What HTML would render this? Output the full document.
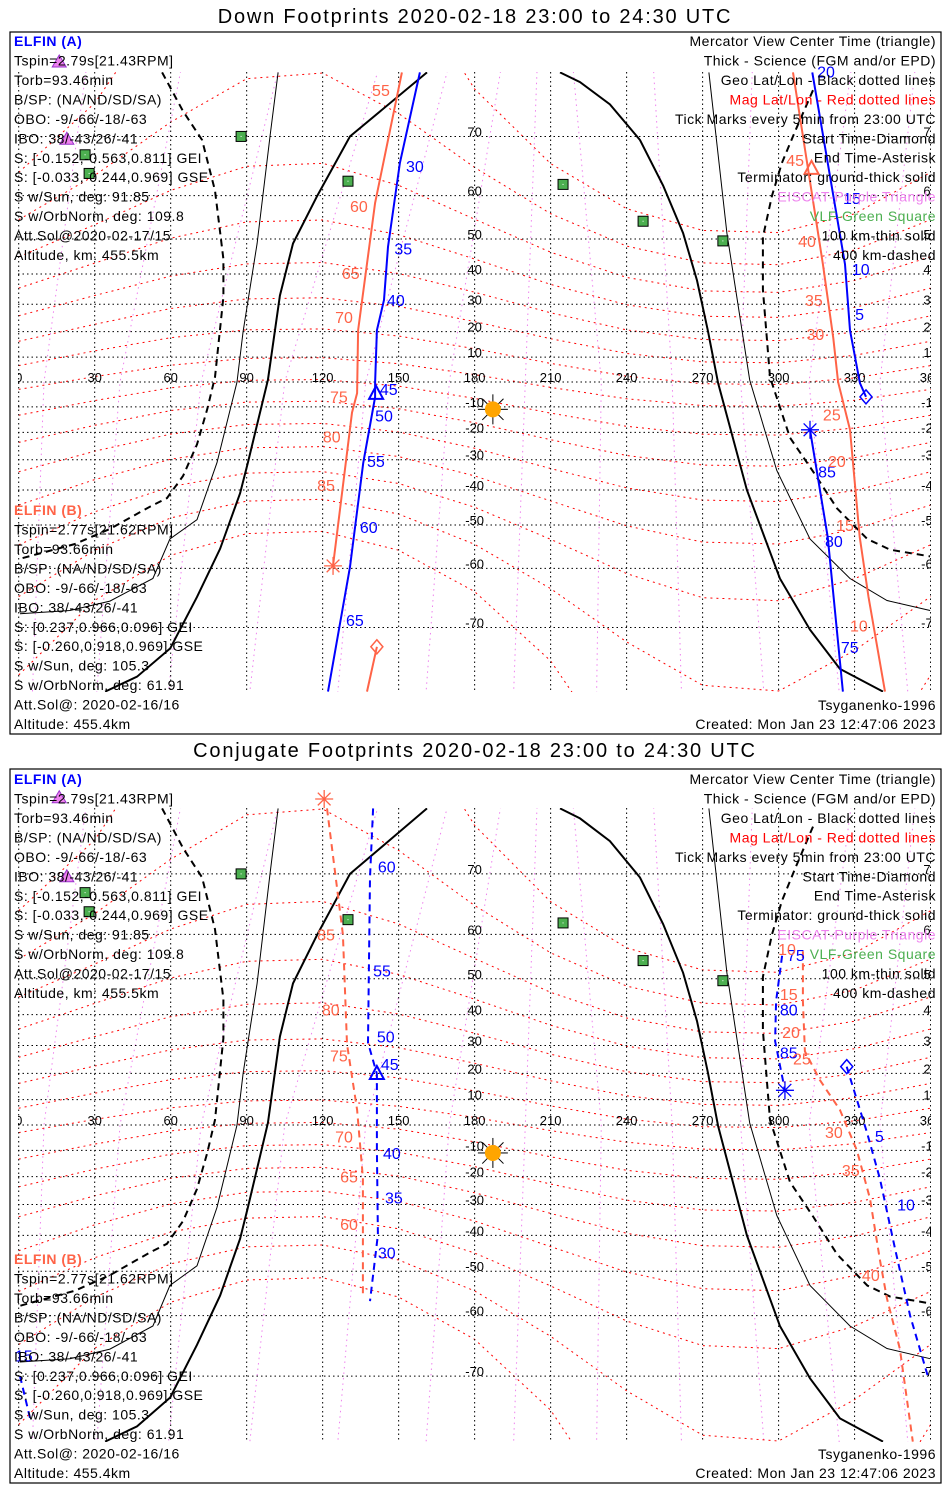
<!DOCTYPE html>
<html><head><meta charset="utf-8"><style>
html,body{margin:0;padding:0;background:#fff;width:950px;height:1500px;overflow:hidden}
svg{display:block}
text{font-family:"Liberation Sans",sans-serif}
</style></head><body>
<svg id="chart" width="950" height="1500" viewBox="0 0 950 1500" xmlns="http://www.w3.org/2000/svg">
<rect x="0" y="0" width="950" height="1500" fill="#fff"/>
<g id="layer"></g>
</svg>
<script>
// ---- axis / grid data ----
const lonTicks=[0,30,60,90,120,150,180,210,240,270,300,330,360];
const latTicks=[-70,-60,-50,-40,-30,-20,-10,10,20,30,40,50,60,70];
const magLats=[-70,-60,-50,-40,-30,-20,-10,0,10,20,30,40,50,60,70];
const magLonsGrid=[0,30,60,90,120,150,180,210,240,270,300,330,360];
const magOffsets=[-3.0,2.2,6.8,9.5,9.8,7.4,3.0,-2.2,-6.8,-9.5,-9.8,-7.4,-3.0];
const violetEq=[10,40,72,105,137,170,200,230,258,285,312,340];
const violetTop=[28,66,105,145,172,192,205,218,250,290,330,355];
const violetBot=[5,30,58,90,125,160,195,228,262,295,325,352];
// ---- terminator / altitude curves (geo lon/lat) ----
const termThickL_lon=[161.2,130.8,117.8,108.3,103.1,98.4,90.5,87.4,79.5,70.4,59.8,46.7,34.1];
const termThickL_lat=[77.2,70,59.9,48.8,33,0.8,-31,-41,-55.8,-65.3,-72.7,-75.8,-77.2];
const termThickR_lon=[213.7,221.6,233.4,245.3,254.4,262.3,267.8,272.1,276.1,287.5,300.5,312.4,324.2,341.2];
const termThickR_lat=[77.2,76.3,74,69.5,62,51.5,38,20.3,-0.4,-40,-62,-70.3,-75,-77.2];
const thinL_lon=[102.4,99.2,94.1,88.6,86.2,78.3,70.4,59.7,53,36,20.2,0.5];
const thinL_lat=[77.2,70,48.8,20,0,-31,-48.6,-53.5,-62,-66,-67.5,-68];
const thinR_lon=[272.5,279.6,288.6,299.3,312.4,328.2,342.8,359.8];
const thinR_lat=[77.2,51.5,0.8,-33.7,-53.5,-62,-65.9,-67.5];
const dashL_lon=[56.6,64.9,72.4,77.5,80.8,80.8,77.5,74.4,70.4,64.9,58.5,51.8,36,22.2,0.5];
const dashL_lat=[77.2,73.2,69.5,61,44.5,32.5,2,-11,-24.5,-35.5,-42.5,-45,-51,-54.7,-58];
const dashR_lon=[313.6,306.5,301.3,297.4,293.8,293.8,296.6,304.5,313.6,323.1,335,344,359.8];
const dashR_lat=[75.5,70.7,66,60,50.5,35,2,-22,-34,-45.5,-53.5,-56,-57.5];
// ---- site markers ----
const vlfLon=[26.2,27.8,87.8,130,214.9,246.5,278];
const vlfLat=[67.3,64.2,70,62.8,62.2,54.4,49.5];
const eiscatLon=[16,19];
const eiscatLat=[78.1,69.6];
const sunLon=[187.2];
const sunLat=[-11];
// ---- panel 1 (down) tracks ----
const p1A_lon=[158.4,150.5,145.8,144.2,141.4,140.7,140.7,136,130.8,122.1];
const p1A_lat=[77.2,66,47.9,31.5,20.5,-0.4,-6.1,-31.2,-59.7,-77.2];
const p1B_lon=[151.3,140.7,134,133.6,131.6,124.1];
const p1B_lat=[77.2,58.5,20.5,-4.5,-12.3,-59.5];
const p1B2_lon=[141.4,137.5];
const p1B2_lat=[-72.5,-77.2];
const p1AR_lon=[313.3,326.2,328.2,332.1,334.5];
const p1AR_lat=[77.2,43,20.5,-0.4,-6];
const p1AR2_lon=[312.4,319.4,325.4];
const p1AR2_lat=[-19,-53,-77.2];
const p1BR_lon=[305.7,317.5,321.6,323.5,328.2,332,335.5,342];
const p1BR_lat=[77.2,43,17.5,0,-19,-53,-65.3,-77.2];
const p1A_labels=['30','35','40','45','50','55','60','65','20','15','10','5','85','80','75'];
const p1A_labLon=[152.9,148.3,145.4,142.6,140.7,137.5,134.7,129.2,315.2,325.4,328.9,330.2,315.6,318.3,324.6];
const p1A_labLat=[65.5,47.5,31.5,-2.9,-13.5,-30.5,-50.5,-68.9,77.3,59.5,41.5,26.5,-34,-54,-72.5];
const p1B_labels=['55','60','65','70','75','80','85','45','40','35','30','25','20','15','10'];
const p1B_labLon=[139.5,130.8,127.6,124.9,122.9,120.1,117.8,303,307.7,310.4,311,317.5,319.5,322.7,328.2];
const p1B_labLat=[75.5,57.8,40.3,25.5,-5.8,-21.6,-38.5,66.5,49.5,31.5,19,-13,-30.5,-50,-69.7];
// ---- panel 2 (conjugate) tracks ----
const p2A_lon=[139.9,138.7,137.9,141.4,141.4,141.8,138.7];
const p2A_lat=[77.2,69.5,31,19.8,-9.8,-39.8,-57];
const p2B_lon=[121.7,128,129.6,133.6,135.9,135.9];
const p2B_lat=[77.2,60,30.5,6,-20.5,-56.3];
const p2AR_lon=[301.4,299,298.6,302.5];
const p2AR_lat=[55.5,44,31.5,13.6];
const p2AR2_lon=[326.9,334.9,340,346,351.9,358.9];
const p2AR2_lat=[22.5,-3,-20.8,-44,-60,-70];
const p2AR3_lon=[0.5,4.5];
const p2AR3_lat=[-70,-75];
const p2BR_lon=[309.6,309.6,310.4,316.3,324.2,330.9,336.1,340,342.8,347.9,353];
const p2BR_lat=[56.5,44,28,17.5,6,-10,-28,-47,-56.5,-66,-77.2];
const p2A_labels=['60','55','50','45','40','35','30','75','80','85','5','10','15'];
const p2A_labLon=[141.8,139.9,141.4,143,143.8,144.6,141.8,303.3,300.5,300.5,338,346.8,-1.5];
const p2A_labLat=[71,52,33,23.5,-11,-27.5,-45,55.7,41.5,27.5,-4.3,-30,-67];
const p2B_labels=['85','80','75','70','65','60','10','15','20','25','30','35','40'];
const p2B_labLon=[117.8,119.7,122.9,124.9,126.9,126.9,299.8,300.5,301.4,305.7,318.3,325,332.9];
const p2B_labLat=[60,41.5,26.5,-4.5,-20,-36.5,57,46,34.5,25.5,-2.8,-17.5,-51];

const BLUE='#0000ff', RED='#ff6347';
const panels=[{yc:382,k:141.5,top:72,bot:692,dy:0,title:'Down Footprints 2020-02-18 23:00 to 24:30 UTC',box:[10,32,931,702],tx:0,bx:0,ty:23},
              {yc:1125,k:144.7,top:808,bot:1442,dy:738,title:'Conjugate Footprints 2020-02-18 23:00 to 24:30 UTC',box:[10,769,931,714],tx:738,bx:749,ty:757}];
const NS='http://www.w3.org/2000/svg';
const layer=document.getElementById('layer');
function X(lon){return 18.7+lon*2.533;}
function Y(lat,p){const r=lat*Math.PI/180;return p.yc-p.k*Math.log(Math.tan(Math.PI/4+r/2));}
function mk(tag,attrs,parent){const e=document.createElementNS(NS,tag);for(const k in attrs)e.setAttribute(k,attrs[k]);(parent||layer).appendChild(e);return e;}
function pts(lons,lats,p){return lons.map((l,i)=>X(l).toFixed(1)+','+Y(lats[i],p).toFixed(1)).join(' ');}
function txt(s,x,y,opts,parent){const t=mk('text',Object.assign({x:x,y:y,'font-size':13,fill:'#000'},opts||{}),parent);t.textContent=s;return t;}
const INFO={'font-size':14,'letter-spacing':0.5};

panels.forEach((p,pi)=>{
  const defs=mk('defs',{});
  const cp=mk('clipPath',{id:'clip'+pi},defs);
  mk('rect',{x:18,y:p.top,width:913,height:p.bot-p.top},cp);
  const tt=txt(p.title,475,p.ty,{'font-size':20,'letter-spacing':1.8,'text-anchor':'middle'});
  
  
  const box=mk('rect',{x:p.box[0],y:p.box[1],width:p.box[2],height:p.box[3],fill:'none',stroke:'#000','stroke-width':1.2});
  
  
  const g=mk('g',{'clip-path':'url(#clip'+pi+')'});
  
  
  violetEq.forEach((e,i)=>{
    const l=mk('polyline',{points:pts([violetTop[i],e,violetBot[i]],[79.5,0,-79.5],p),fill:'none',stroke:'#ee82ee','stroke-width':1,'stroke-dasharray':'1.5,4'},g);
    
    
  });
  magLats.forEach(m=>{
    const la=magOffsets.map(o=>Math.max(-85,Math.min(85,m+o*(1+Math.abs(m)/80))));
    const l=mk('polyline',{points:pts(magLonsGrid,la,p),fill:'none',stroke:'#ff0000','stroke-width':1,'stroke-dasharray':'2,4'},g);
    
    
  });
  lonTicks.forEach(lo=>{
    const l=mk('line',{x1:X(lo),x2:X(lo),y1:p.top,y2:p.bot,stroke:'#000','stroke-width':1,'stroke-dasharray':'1.5,3'},g);
    
    
  });
  latTicks.concat([0]).forEach(la=>{
    const l=mk('line',{x1:18,x2:931,y1:Y(la,p),y2:Y(la,p),stroke:'#000','stroke-width':1,'stroke-dasharray':'1.5,3'},g);
    
    
  });
  lonTicks.forEach(lo=>{
    const t=txt(String(lo),X(lo),Y(0,p),{'text-anchor':'middle'},g);
    
    
  });
  latTicks.forEach(la=>{
    [180,360].forEach(lo=>{
      const t=txt(String(la),X(lo),Y(la,p),{'text-anchor':'middle'},g);
      
      
    });
  });
  const curves=[[termThickL_lon,termThickL_lat,2,null,'terminator-ground-west'],[termThickR_lon,termThickR_lat,2,null,'terminator-ground-east'],
    [thinL_lon,thinL_lat,1,null,'terminator-100km-west'],[thinR_lon,thinR_lat,1,null,'terminator-100km-east'],
    [dashL_lon,dashL_lat,2,'7,5','terminator-400km-west'],[dashR_lon,dashR_lat,2,'7,5','terminator-400km-east']];
  curves.forEach(c=>{
    const a={points:pts(c[0],c[1],p),fill:'none',stroke:'#000','stroke-width':c[2]};
    if(c[3])a['stroke-dasharray']=c[3];
    const l=mk('polyline',a,g);
    
    
  });
  const tracks=pi===0?
    [[p1A_lon,p1A_lat,BLUE,'elfin-a-track'],[p1B_lon,p1B_lat,RED,'elfin-b-track'],[p1B2_lon,p1B2_lat,RED,'elfin-b-track-start'],
     [p1AR_lon,p1AR_lat,BLUE,'elfin-a-track-east'],[p1AR2_lon,p1AR2_lat,BLUE,'elfin-a-track-south'],[p1BR_lon,p1BR_lat,RED,'elfin-b-track-east']]:
    [[p2A_lon,p2A_lat,BLUE,'elfin-a-conj-track'],[p2B_lon,p2B_lat,RED,'elfin-b-conj-track'],[p2AR_lon,p2AR_lat,BLUE,'elfin-a-conj-track-east'],
     [p2AR2_lon,p2AR2_lat,BLUE,'elfin-a-conj-track-south'],[p2AR3_lon,p2AR3_lat,BLUE,'elfin-a-conj-track-wrap'],[p2BR_lon,p2BR_lat,RED,'elfin-b-conj-track-east']];
  tracks.forEach(t=>{
    const a={points:pts(t[0],t[1],p),fill:'none',stroke:t[2],'stroke-width':2};
    if(pi===1)a['stroke-dasharray']='7,5';
    const l=mk('polyline',a,g);
    
    
  });
  vlfLon.forEach((lo,i)=>{
    const x=X(lo),y=Y(vlfLat[i],p);
    const s=mk('rect',{x:x-5,y:y-5,width:10,height:10,fill:'#4caf50',stroke:'#000','stroke-width':1});
    
    
    mk('rect',{x:x-0.5,y:y-0.5,width:1,height:1,fill:'#fff'});
  });
  eiscatLon.forEach((lo,i)=>{
    const x=X(lo),y=Y(eiscatLat[i],p);
    const tr=mk('polygon',{points:`${x},${y-7} ${x-7},${y+5} ${x+7},${y+5}`,fill:'#ee82ee',stroke:'#9932cc','stroke-width':1});
    
    
  });
  {const x=X(sunLon[0]),y=Y(sunLat[0],p);
   const sg=mk('g',{});
   
   
   for(let a=0;a<8;a++){const r=a*Math.PI/4;mk('line',{x1:x,y1:y,x2:x+15*Math.cos(r),y2:y+15*Math.sin(r),stroke:'#000','stroke-width':1},sg);}
   mk('circle',{cx:x,cy:y,r:8,fill:'#ffa500'},sg);}
  const labSets=pi===0?[[p1A_labels,p1A_labLon,p1A_labLat,BLUE],[p1B_labels,p1B_labLon,p1B_labLat,RED]]:
                       [[p2A_labels,p2A_labLon,p2A_labLat,BLUE],[p2B_labels,p2B_labLon,p2B_labLat,RED]];
  labSets.forEach(s=>{
    s[0].forEach((lab,i)=>{
      const t=txt(lab,X(s[1][i]),Y(s[2][i],p)+6,{'font-size':16,fill:s[3]});
      
      
    });
  });
});

function triangle(lon,lat,p,col,name){const x=X(lon),y=Y(lat,p);
  const e=mk('polygon',{points:`${x},${y-8} ${x-7},${y+5} ${x+7},${y+5}`,fill:'none',stroke:col,'stroke-width':2});
  
  }
function diamond(lon,lat,p,col,name){const x=X(lon),y=Y(lat,p);
  const e=mk('polygon',{points:`${x},${y-7} ${x+6},${y} ${x},${y+7} ${x-6},${y}`,fill:'none',stroke:col,'stroke-width':1.5});
  
  }
function asterisk(lon,lat,p,col,name){const x=X(lon),y=Y(lat,p);const g=mk('g',{stroke:col,'stroke-width':1.3});
  
  
  for(let a=0;a<4;a++){const r=a*Math.PI/4;mk('line',{x1:x-9*Math.cos(r),y1:y-9*Math.sin(r),x2:x+9*Math.cos(r),y2:y+9*Math.sin(r)},g);}}
triangle(141.1,-4.8,panels[0],BLUE,'elfin-a-center-time');
triangle(313,65,panels[0],RED,'elfin-b-center-time');
diamond(334.5,-6,panels[0],BLUE,'elfin-a-start');
diamond(141.4,-72.5,panels[0],RED,'elfin-b-start');
asterisk(124.1,-59.5,panels[0],RED,'elfin-b-end');
asterisk(312.4,-19,panels[0],BLUE,'elfin-a-end');
triangle(141.4,19.8,panels[1],BLUE,'elfin-a-conj-center-time');
asterisk(120.6,78,panels[1],RED,'elfin-b-conj-end');
asterisk(302.5,13.6,panels[1],BLUE,'elfin-a-conj-end');
diamond(326.9,22.5,panels[1],BLUE,'elfin-a-conj-start');

const infoA=['Tspin=2.79s[21.43RPM]','Torb=93.46min','B/SP: (NA/ND/SD/SA)','OBO: -9/-66/-18/-63','IBO: 38/-43/26/-41','S: [-0.152,-0.563,0.811] GEI','S: [-0.033,-0.244,0.969] GSE','S w/Sun, deg: 91.85','S w/OrbNorm, deg: 109.8','Att.Sol@2020-02-17/15','Altitude, km: 455.5km'];
const infoB=['Tspin=2.77s[21.62RPM]','Torb=93.66min','B/SP: (NA/ND/SD/SA)','OBO: -9/-66/-18/-63','IBO: 38/-43/26/-41','S: [0.237,0.966,0.096] GEI','S: [-0.260,0.918,0.969] GSE','S w/Sun, deg: 105.3','S w/OrbNorm, deg: 61.91','Att.Sol@: 2020-02-16/16','Altitude: 455.4km'];
const legend=[['Mercator View Center Time (triangle)','#000'],['Thick - Science (FGM and/or EPD)','#000'],['Geo Lat/Lon - Black dotted lines','#000'],['Mag Lat/Lon - Red dotted lines','#ff0000'],['Tick Marks every 5min from 23:00 UTC','#000'],['Start Time-Diamond','#000'],['End Time-Asterisk','#000'],['Terminator: ground-thick solid','#000'],['EISCAT-Purple Triangle','#ee82ee'],['VLF-Green Square','#4caf50'],['100 km-thin solid','#000'],['400 km-dashed','#000']];
panels.forEach(p=>{
  const h=txt('ELFIN (A)',14,46+p.tx,Object.assign({fill:BLUE,'font-weight':'bold'},INFO));
  
  
  infoA.forEach((s,i)=>{const t=txt(s,14,65.5+i*19.45+p.tx,INFO);
    
    });
  const hb=txt('ELFIN (B)',14,515+p.bx,Object.assign({fill:RED,'font-weight':'bold'},INFO));
  
  
  infoB.forEach((s,i)=>{const t=txt(s,14,534.5+i*19.45+p.bx,INFO);
    
    });
  legend.forEach((s,i)=>{const t=txt(s[0],936,46+i*19.45+p.tx,Object.assign({'text-anchor':'end',fill:s[1]},INFO));
    
    });
  const m1=txt('Tsyganenko-1996',936,710+p.bx,Object.assign({'text-anchor':'end'},INFO));
  
  
  const m2=txt('Created: Mon Jan 23 12:47:06 2023',936,729+p.bx,Object.assign({'text-anchor':'end'},INFO));
  
  
});
</script>
</body></html>
